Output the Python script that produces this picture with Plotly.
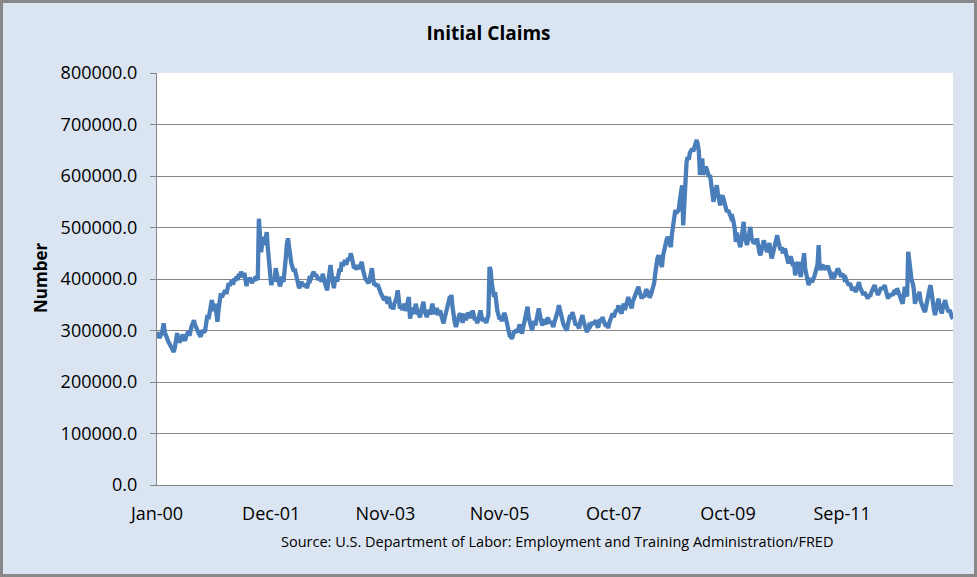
import pandas as pd
import plotly.graph_objects as go

# ── data: weekly initial claims (thousands), weeks ending from 2000-01-01 ─────
start_date = "2000-01-01"

claims_k = [
    # 2000
    297, 291, 286, 289, 293, 302, 314, 296, 288, 284, 279, 275, 270, 266, 262, 258, 268, 281, 295, 283,
    277, 281, 288, 292, 285, 280, 289, 294, 298, 290, 303, 309, 314, 320, 311, 304, 300, 296, 292, 288,
    295, 301, 296, 300, 315, 330, 322, 334, 345, 359, 347, 338,
    # 2001
    352, 336, 317, 341, 358, 372, 365, 370, 376, 378, 371, 384, 392, 387, 395, 398, 389, 401, 396, 405,
    398, 410, 403, 414, 409, 404, 412, 398, 386, 402, 395, 403, 399, 392, 400, 396, 405, 401, 398, 517,
    478, 452, 470, 482, 466, 484, 491, 460, 438, 415, 388, 396,
    # 2002
    402, 395, 421, 410, 398, 392, 386, 398, 405, 394, 412, 440, 468, 479, 462, 441, 430, 423, 415, 420,
    411, 398, 390, 382, 388, 395, 386, 391, 385, 390, 382, 394, 400, 398, 406, 410, 414, 405, 409, 402,
    398, 404, 400, 395, 410, 404, 392, 385, 378, 395, 412, 427,
    # 2003
    408, 396, 382, 398, 404, 395, 411, 420, 414, 433, 425, 430, 437, 428, 434, 441, 436, 450, 442, 430,
    421, 425, 418, 427, 420, 424, 428, 433, 418, 408, 401, 398, 395, 392, 399, 410, 421, 402, 388, 392,
    385, 390, 382, 376, 372, 368, 362, 359, 366, 358, 352, 365,
    # 2004
    356, 343, 349, 341, 352, 358, 364, 378, 356, 343, 348, 340, 345, 352, 338, 346, 350, 365, 323, 336,
    344, 339, 332, 352, 340, 334, 330, 326, 338, 345, 356, 338, 330, 326, 334, 340, 331, 345, 352, 340,
    332, 336, 344, 330, 335, 339, 328, 320, 314, 325, 335, 343,
    # 2005
    352, 360, 358, 369, 345, 326, 315, 307, 318, 325, 330, 333, 322, 315, 328, 332, 320, 326, 335, 330,
    324, 330, 339, 328, 320, 325, 314, 322, 330, 339, 326, 318, 324, 320, 315, 322, 330, 423, 418, 392,
    380, 365, 375, 352, 338, 330, 322, 326, 318, 325, 334, 330,
    # 2006
    318, 305, 296, 290, 288, 284, 291, 300, 295, 302, 297, 305, 312, 300, 294, 305, 318, 330, 338, 346,
    325, 316, 308, 300, 312, 318, 310, 322, 330, 343, 330, 318, 310, 315, 322, 312, 318, 325, 320, 314,
    318, 312, 307, 316, 322, 330, 338, 349, 340, 326, 318, 312,
    # 2007
    308, 303, 300, 312, 325, 330, 322, 336, 328, 318, 310, 314, 308, 304, 316, 322, 330, 318, 308, 302,
    297, 303, 310, 308, 314, 316, 312, 318, 320, 310, 306, 314, 322, 318, 326, 318, 312, 308, 315, 304,
    315, 322, 328, 333, 326, 332, 340, 336, 349, 342, 338, 333,
    # 2008
    345, 352, 340, 350, 358, 365, 355, 350, 343, 356, 362, 368, 372, 378, 385, 375, 370, 362, 368, 365,
    372, 380, 376, 370, 364, 369, 378, 385, 391, 410, 428, 440, 446, 438, 430, 423, 445, 458, 466, 474,
    482, 476, 470, 462, 488, 510, 524, 534, 528, 532, 534, 552,
    # 2009
    565, 582, 504, 556, 598, 627, 637, 632, 645, 650, 653, 648, 658, 660, 670, 662, 647, 602, 620, 634,
    602, 610, 618, 614, 608, 598, 602, 585, 565, 550, 562, 575, 582, 566, 552, 543, 558, 562, 556, 545,
    538, 530, 534, 526, 524, 518, 520, 511, 498, 472, 490, 478,
    # 2010
    470, 462, 475, 490, 511, 482, 470, 466, 478, 488, 501, 480, 474, 469, 472, 468, 479, 460, 452, 446,
    455, 462, 475, 466, 458, 452, 462, 470, 452, 440, 448, 460, 468, 476, 485, 472, 462, 456, 462, 450,
    455, 459, 448, 440, 430, 438, 444, 436, 425, 433, 407, 420,
    # 2011
    426, 433, 415, 404, 418, 440, 450, 420, 405, 396, 388, 395, 402, 394, 398, 404, 412, 420, 428, 466,
    417, 428, 422, 418, 424, 423, 418, 426, 420, 412, 406, 408, 401, 404, 410, 414, 420, 417, 410, 404,
    408, 407, 400, 402, 396, 392, 388, 392, 384, 378, 384, 376,
    # 2012
    375, 380, 388, 394, 384, 378, 372, 369, 374, 368, 365, 362, 370, 366, 374, 380, 384, 388, 380, 372,
    369, 374, 380, 384, 380, 386, 388, 378, 368, 362, 370, 366, 372, 368, 374, 378, 370, 382, 376, 370,
    362, 358, 352, 368, 385, 372, 366, 453, 430, 412, 398, 392,
    # 2013
    380, 352, 362, 370, 366, 375, 358, 350, 344, 340, 336, 350, 362, 372, 380, 388, 368, 350, 340, 330,
    342, 354, 362, 348, 340, 333, 345, 352, 359, 348, 342, 336, 340, 330, 326, 323,
]

label_every = 102          # weeks between category labels
y_ticks = [0, 100000, 200000, 300000, 400000, 500000, 600000, 700000, 800000]

claims = [v * 1000 for v in claims_k]
dates = pd.date_range(start=start_date, periods=len(claims), freq="7D")
tick_dates = list(dates[::label_every])
tick_text = [d.strftime("%b-%y") for d in tick_dates]

# ── figure ────────────────────────────────────────────────────────────────────
GRID = "#868686"
FONT = "Open Sans, Liberation Sans, sans-serif"

fig = go.Figure()

fig.add_trace(go.Scatter(
    x=dates,
    y=claims,
    mode="lines",
    name="Initial Claims",
    line=dict(color="#4A7EBB", width=4.3),
))

fig.update_layout(
    width=977,
    height=577,
    margin=dict(l=157, r=24, t=73, b=92),
    paper_bgcolor="#DBE5F1",
    plot_bgcolor="#FFFFFF",
    showlegend=False,
    font=dict(family=FONT, color="#000000", size=18),
    title=dict(
        text="<b>Initial Claims</b>",
        x=0.5, xref="container", xanchor="center",
        y=1 - 33 / 577, yref="container", yanchor="middle",
        font=dict(family=FONT, size=19, color="#000000"),
    ),
    xaxis=dict(
        type="date",
        range=[dates[0], dates[-1]],
        tickmode="array",
        tickvals=tick_dates,
        ticktext=tick_text,
        ticks="",
        showgrid=False,
        showline=True,
        linecolor=GRID,
        linewidth=1,
        zeroline=False,
        ticklabelstandoff=12,
        tickfont=dict(size=18),
    ),
    yaxis=dict(
        range=[0, 800000],
        tickmode="array",
        tickvals=y_ticks,
        tickformat=".1f",
        ticks="outside",
        ticklen=6,
        tickcolor=GRID,
        showgrid=True,
        gridcolor=GRID,
        gridwidth=1,
        showline=True,
        linecolor=GRID,
        linewidth=1,
        zeroline=False,
        ticklabelstandoff=9,
        tickfont=dict(size=18),
    ),
)

# axis title "Number"
fig.add_annotation(
    text="<b>Number</b>",
    xref="paper", yref="paper",
    x=(40 - 157) / 796, y=(485 - 278) / 412,
    textangle=-90,
    showarrow=False,
    font=dict(family=FONT, size=17),
    xanchor="center", yanchor="middle",
)

# source line
fig.add_annotation(
    text="Source: U.S. Department of Labor: Employment and Training Administration/FRED",
    xref="paper", yref="paper",
    x=(557 - 157) / 796, y=(485 - 541) / 412,
    showarrow=False,
    font=dict(family=FONT, size=14.5),
    xanchor="center", yanchor="middle",
)

# outer chart border
fig.add_shape(
    type="rect",
    xref="paper", yref="paper",
    x0=(1.5 - 157) / 796, x1=(975.5 - 157) / 796,
    y0=(485 - 575.5) / 412, y1=(485 - 1.5) / 412,
    line=dict(color="#888888", width=3),
    fillcolor="rgba(0,0,0,0)",
)

# page body has a default 8px margin; drop it so the chart sits at the window origin
fig.write_html(
    "out.html",
    config={"displayModeBar": False},
    post_script="document.body.style.margin='0px';document.body.style.overflow='hidden';",
)
